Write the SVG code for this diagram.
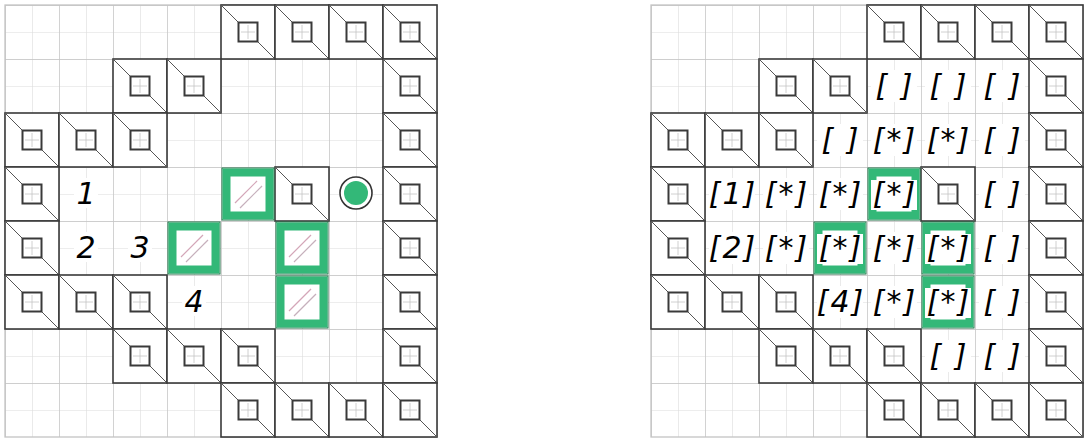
<svg xmlns="http://www.w3.org/2000/svg" xmlns:xlink="http://www.w3.org/1999/xlink" width="1091" height="444" viewBox="0 0 1091 444">
<style>
.lbl{font-family:"DejaVu Sans",sans-serif;font-style:italic;font-size:30px;fill:#000;text-anchor:middle;letter-spacing:2px}
.num{font-family:"DejaVu Sans",sans-serif;font-style:italic;font-size:30px;fill:#000;text-anchor:middle}
.lbg{fill:#fff}
</style>
<defs>
<pattern id="fine" x="5" y="5" width="27" height="27" patternUnits="userSpaceOnUse">
<path d="M0 0H27M0 0V27" fill="none" stroke="#dcdcdc" stroke-width="1.2"/>
</pattern>
<pattern id="fineR" x="651" y="5" width="27" height="27" patternUnits="userSpaceOnUse">
<path d="M0 0H27M0 0V27" fill="none" stroke="#dcdcdc" stroke-width="1.2"/>
</pattern>
<pattern id="coarse" x="5" y="5" width="54" height="54" patternUnits="userSpaceOnUse">
<path d="M0 0H54M0 0V54" fill="none" stroke="#c4c4c4" stroke-width="1.3"/>
</pattern>
<pattern id="coarseR" x="651" y="5" width="54" height="54" patternUnits="userSpaceOnUse">
<path d="M0 0H54M0 0V54" fill="none" stroke="#c4c4c4" stroke-width="1.3"/>
</pattern>
<g id="wall">
<rect x="0" y="0" width="54" height="54" fill="#fff" stroke="#3a3a3a" stroke-width="1.6"/>
<line x1="0" y1="0" x2="54" y2="54" stroke="#555" stroke-width="1"/>
<rect x="17.5" y="17.5" width="19" height="19" fill="#fff" stroke="#3a3a3a" stroke-width="2"/>
<path d="M27 20V34M20 27H34" stroke="#c4c4c4" stroke-width="0.8"/>
</g>
<g id="crate">
<rect x="1" y="1" width="52" height="52" fill="#fff" stroke="#1f6f45" stroke-width="1"/>
<rect x="5.5" y="5.5" width="43" height="43" fill="#fff" stroke="#33b878" stroke-width="8"/>
<line x1="14" y1="36" x2="36" y2="14" stroke="#d4a6b8" stroke-width="1.2"/>
<line x1="19" y1="41" x2="41" y2="19" stroke="#c6b0bc" stroke-width="1.2"/>
</g>
</defs>
<rect width="1091" height="444" fill="#fff"/>

<g id="left-board">
<rect x="5" y="5" width="432" height="432" fill="url(#fine)"/>
<rect x="5" y="5" width="432" height="432" fill="url(#coarse)"/>
<rect x="5" y="5" width="432" height="432" fill="none" stroke="#c4c4c4" stroke-width="1.3"/>
<g id="left-walls">
<use xlink:href="#wall" x="221" y="5"/><use xlink:href="#wall" x="275" y="5"/><use xlink:href="#wall" x="329" y="5"/><use xlink:href="#wall" x="383" y="5"/>
<use xlink:href="#wall" x="113" y="59"/><use xlink:href="#wall" x="167" y="59"/><use xlink:href="#wall" x="383" y="59"/>
<use xlink:href="#wall" x="5" y="113"/><use xlink:href="#wall" x="59" y="113"/><use xlink:href="#wall" x="113" y="113"/><use xlink:href="#wall" x="383" y="113"/>
<use xlink:href="#wall" x="5" y="167"/><use xlink:href="#wall" x="275" y="167"/><use xlink:href="#wall" x="383" y="167"/>
<use xlink:href="#wall" x="5" y="221"/><use xlink:href="#wall" x="383" y="221"/>
<use xlink:href="#wall" x="5" y="275"/><use xlink:href="#wall" x="59" y="275"/><use xlink:href="#wall" x="113" y="275"/><use xlink:href="#wall" x="383" y="275"/>
<use xlink:href="#wall" x="113" y="329"/><use xlink:href="#wall" x="167" y="329"/><use xlink:href="#wall" x="221" y="329"/><use xlink:href="#wall" x="383" y="329"/>
<use xlink:href="#wall" x="221" y="383"/><use xlink:href="#wall" x="275" y="383"/><use xlink:href="#wall" x="329" y="383"/><use xlink:href="#wall" x="383" y="383"/>
</g>
<g id="left-crates">
<use xlink:href="#crate" x="221" y="167"/>
<use xlink:href="#crate" x="167" y="221"/>
<use xlink:href="#crate" x="275" y="221"/>
<use xlink:href="#crate" x="275" y="275"/>
</g>
<g id="player">
<circle cx="356" cy="193" r="16" fill="#fff" stroke="#333" stroke-width="1.6"/>
<circle cx="356" cy="193" r="12" fill="#33b878"/>
</g>
<g id="left-labels">
<rect class="lbg" x="74" y="178" width="24" height="30"/><text class="num" x="86" y="204">1</text>
<rect class="lbg" x="74" y="232" width="24" height="30"/><text class="num" x="86" y="258">2</text>
<rect class="lbg" x="128" y="232" width="24" height="30"/><text class="num" x="140" y="258">3</text>
<rect class="lbg" x="182" y="286" width="24" height="30"/><text class="num" x="194" y="312">4</text>
</g>
</g>

<g id="right-board">
<rect x="651" y="5" width="432" height="432" fill="url(#fineR)"/>
<rect x="651" y="5" width="432" height="432" fill="url(#coarseR)"/>
<rect x="651" y="5" width="432" height="432" fill="none" stroke="#c4c4c4" stroke-width="1.3"/>
<g id="right-walls">
<use xlink:href="#wall" x="867" y="5"/><use xlink:href="#wall" x="921" y="5"/><use xlink:href="#wall" x="975" y="5"/><use xlink:href="#wall" x="1029" y="5"/>
<use xlink:href="#wall" x="759" y="59"/><use xlink:href="#wall" x="813" y="59"/><use xlink:href="#wall" x="1029" y="59"/>
<use xlink:href="#wall" x="651" y="113"/><use xlink:href="#wall" x="705" y="113"/><use xlink:href="#wall" x="759" y="113"/><use xlink:href="#wall" x="1029" y="113"/>
<use xlink:href="#wall" x="651" y="167"/><use xlink:href="#wall" x="921" y="167"/><use xlink:href="#wall" x="1029" y="167"/>
<use xlink:href="#wall" x="651" y="221"/><use xlink:href="#wall" x="1029" y="221"/>
<use xlink:href="#wall" x="651" y="275"/><use xlink:href="#wall" x="705" y="275"/><use xlink:href="#wall" x="759" y="275"/><use xlink:href="#wall" x="1029" y="275"/>
<use xlink:href="#wall" x="759" y="329"/><use xlink:href="#wall" x="813" y="329"/><use xlink:href="#wall" x="867" y="329"/><use xlink:href="#wall" x="1029" y="329"/>
<use xlink:href="#wall" x="867" y="383"/><use xlink:href="#wall" x="921" y="383"/><use xlink:href="#wall" x="975" y="383"/><use xlink:href="#wall" x="1029" y="383"/>
</g>
<g id="right-crates">
<use xlink:href="#crate" x="867" y="167"/>
<use xlink:href="#crate" x="813" y="221"/>
<use xlink:href="#crate" x="921" y="221"/>
<use xlink:href="#crate" x="921" y="275"/>
</g>
<g id="right-labels">
<rect class="lbg" x="871" y="70" width="46" height="32"/><text class="lbl" x="895" y="96">[ ]</text>
<rect class="lbg" x="925" y="70" width="46" height="32"/><text class="lbl" x="949" y="96">[ ]</text>
<rect class="lbg" x="979" y="70" width="46" height="32"/><text class="lbl" x="1003" y="96">[ ]</text>

<rect class="lbg" x="817" y="124" width="46" height="32"/><text class="lbl" x="841" y="150">[ ]</text>
<rect class="lbg" x="871" y="124" width="46" height="32"/><text class="lbl" x="895" y="150">[*]</text>
<rect class="lbg" x="925" y="124" width="46" height="32"/><text class="lbl" x="949" y="150">[*]</text>
<rect class="lbg" x="979" y="124" width="46" height="32"/><text class="lbl" x="1003" y="150">[ ]</text>

<rect class="lbg" x="709" y="178" width="46" height="32"/><text class="lbl" x="733" y="204">[1]</text>
<rect class="lbg" x="763" y="178" width="46" height="32"/><text class="lbl" x="787" y="204">[*]</text>
<rect class="lbg" x="817" y="178" width="46" height="32"/><text class="lbl" x="841" y="204">[*]</text>
<rect class="lbg" x="871" y="180" width="46" height="30"/><text class="lbl" x="895" y="204">[*]</text>
<rect class="lbg" x="979" y="178" width="46" height="32"/><text class="lbl" x="1003" y="204">[ ]</text>

<rect class="lbg" x="709" y="232" width="46" height="32"/><text class="lbl" x="733" y="258">[2]</text>
<rect class="lbg" x="763" y="232" width="46" height="32"/><text class="lbl" x="787" y="258">[*]</text>
<rect class="lbg" x="817" y="234" width="46" height="30"/><text class="lbl" x="841" y="258">[*]</text>
<rect class="lbg" x="871" y="232" width="46" height="32"/><text class="lbl" x="895" y="258">[*]</text>
<rect class="lbg" x="925" y="234" width="46" height="30"/><text class="lbl" x="949" y="258">[*]</text>
<rect class="lbg" x="979" y="232" width="46" height="32"/><text class="lbl" x="1003" y="258">[ ]</text>

<rect class="lbg" x="817" y="286" width="46" height="32"/><text class="lbl" x="841" y="312">[4]</text>
<rect class="lbg" x="871" y="286" width="46" height="32"/><text class="lbl" x="895" y="312">[*]</text>
<rect class="lbg" x="925" y="288" width="46" height="30"/><text class="lbl" x="949" y="312">[*]</text>
<rect class="lbg" x="979" y="286" width="46" height="32"/><text class="lbl" x="1003" y="312">[ ]</text>

<rect class="lbg" x="925" y="340" width="46" height="32"/><text class="lbl" x="949" y="366">[ ]</text>
<rect class="lbg" x="979" y="340" width="46" height="32"/><text class="lbl" x="1003" y="366">[ ]</text>
</g>
</g>
</svg>
